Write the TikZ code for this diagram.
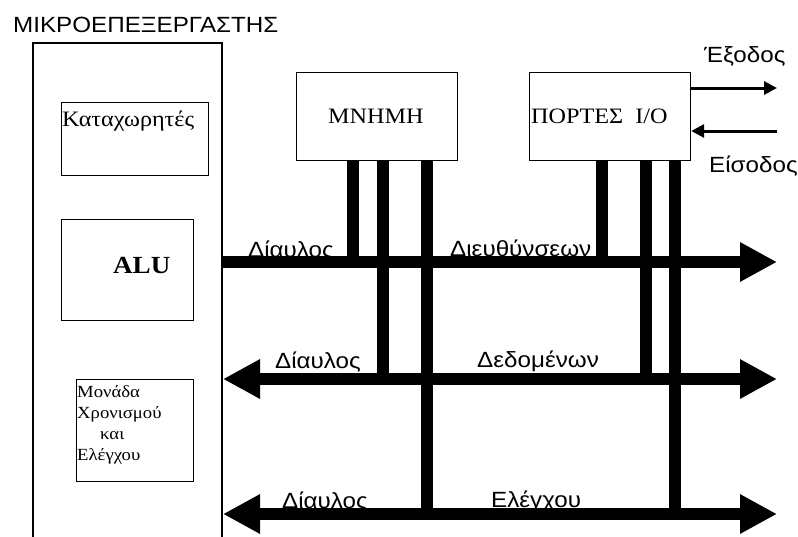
\documentclass[tikz,border=0pt]{standalone}
\usepackage{fontspec}
\setmainfont{Liberation Serif}
\setsansfont{Liberation Sans}
\usetikzlibrary{arrows.meta}
\newcommand{\xstr}[1]{\scalebox{1.1}[1]{#1}}
\begin{document}
\begin{tikzpicture}[x=1pt,y=-1pt,
  box/.style={draw, line width=1.2pt, inner sep=0pt, anchor=north west},
  sanslbl/.style={font=\sffamily\fontsize{22}{22}\selectfont, inner sep=0pt, anchor=base west},
  serlbl/.style={font=\fontsize{22}{22}\selectfont, inner sep=0pt, anchor=base west},
  smalllbl/.style={font=\fontsize{17}{17}\selectfont, inner sep=0pt, anchor=base west},
  bus/.style={line width=12pt},
  vbus/.style={line width=12pt},
  busR/.style={bus, -{Triangle[length=37pt,width=37pt]}},
  busLR/.style={bus, {Triangle[length=37pt,width=37pt]}-{Triangle[length=37pt,width=37pt]}},
  io/.style={line width=3pt, -{Triangle[length=13pt,width=13pt]}}]
\useasboundingbox (0,0) rectangle (798,536);
% title
\node[sanslbl] (title) at (13,32) {\xstr{ΜΙΚΡΟΕΠΕΞΕΡΓΑΣΤΗΣ}};
% CPU outline (open at bottom)
\coordinate (cpubl) at (33,537);
\coordinate (cputl) at (33,43);
\coordinate (cputr) at (222,43);
\coordinate (cpubr) at (222,537);
\draw[line width=1.2pt] (cpubl) -- (cputl) -- (cputr) -- (cpubr);
% inner boxes
\node[box, minimum width=147pt, minimum height=73pt] (reg) at (61,102) {};
\node[serlbl] (regt) at (62,126) {\xstr{Καταχωρητές}};
\node[box, minimum width=132pt, minimum height=101pt] (alu) at (61,219) {};
\node[serlbl, font=\bfseries\fontsize{24.6}{24.6}\selectfont] (alut) at (113,273) {\xstr{ALU}};
\node[box, minimum width=117pt, minimum height=102pt] (ctl) at (76,379) {};
\node[smalllbl] (c1) at (77,397) {\xstr{Μονάδα}};
\node[smalllbl] (c2) at (77,418) {\xstr{Χρονισμού}};
\node[smalllbl] (c3) at (100,439) {\xstr{και}};
\node[smalllbl] (c4) at (77,460) {\xstr{Ελέγχου}};
% memory and ports
\node[box, minimum width=161pt, minimum height=88pt] (mem) at (296,72) {};
\node[serlbl] (memt) at (328,123) {\xstr{ΜΝΗΜΗ}};
\node[box, minimum width=161pt, minimum height=88pt] (io) at (529,72) {};
\node[serlbl] (iot) at (531,123) {\xstr{ΠΟΡΤΕΣ\ \ I/O}};
% I/O arrows
\coordinate (outend) at (777,88);
\coordinate (inbeg) at (777,131);
\draw[io] ([yshift=-16pt]io.north east) -- (outend);
\draw[io] (inbeg) -- ([yshift=-59pt]io.north east);
\node[sanslbl] (outt) at (704,62) {\xstr{Έξοδος}};
\node[sanslbl] (int) at (709,172) {\xstr{Είσοδος}};
% bus labels
\node[sanslbl] (a1) at (248,257) {\xstr{Δίαυλος}};
\node[sanslbl] (a2) at (450,256) {\xstr{Διευθύνσεων}};
\node[sanslbl] (d1) at (275,368) {\xstr{Δίαυλος}};
\node[sanslbl] (d2) at (477,367) {\xstr{Δεδομένων}};
\node[sanslbl] (k1) at (282,508) {\xstr{Δίαυλος}};
\node[sanslbl] (k2) at (491,507) {\xstr{Ελέγχου}};
% bus coordinates
\coordinate (al) at (222,262);
\coordinate (ar) at (777,262);
\coordinate (dl) at (223,379);
\coordinate (dr) at (777,379);
\coordinate (kl) at (223,514);
\coordinate (kr) at (777,514);
% vertical taps
\path (mem.south west) ++(57,0) coordinate (m1)
      (mem.south west) ++(87,0) coordinate (m2)
      (mem.south west) ++(131,0) coordinate (m3)
      (io.south west) ++(73,0) coordinate (p1)
      (io.south west) ++(117,0) coordinate (p2)
      (io.south west) ++(146,0) coordinate (p3);
\draw[vbus] (m1) -- (m1 |- al);
\draw[vbus] (m2) -- (m2 |- dl);
\draw[vbus] (m3) -- (m3 |- kl);
\draw[vbus] (p1) -- (p1 |- al);
\draw[vbus] (p2) -- (p2 |- dl);
\draw[vbus] (p3) -- (p3 |- kl);
% buses
\draw[busR] (al) -- (ar);
\draw[busLR] (dl) -- (dr);
\draw[busLR] (kl) -- (kr);
\end{tikzpicture}
\end{document}
